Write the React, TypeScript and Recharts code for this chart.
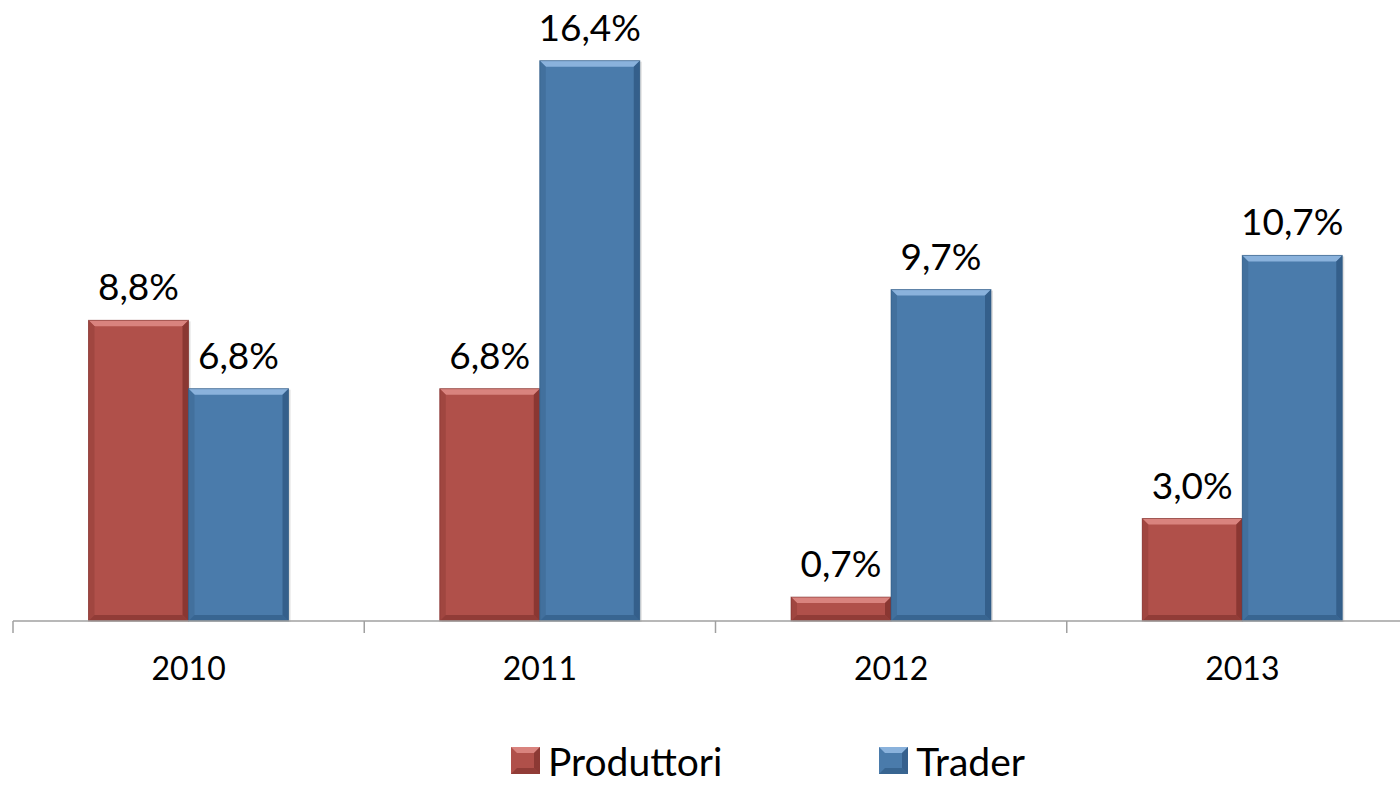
import { BarChart, Bar, XAxis, YAxis, Legend, LabelList } from 'recharts';

const years = ['2010', '2011', '2012', '2013'];
const produttori = [8.8, 6.8, 0.7, 3.0];
const trader = [6.8, 16.4, 9.7, 10.7];

const data = years.map((year, i) => ({ year, produttori: produttori[i], trader: trader[i] }));

const FONT = 'Lato, "Open Sans", sans-serif';

const palette = {
  produttori: { main: '#b0504a', light: '#d9837e', dark: '#7d2f2b', side: '#a04640' },
  trader: { main: '#4a7bab', light: '#8ab2dc', dark: '#2d5680', side: '#42709d' },
};

type Tone = typeof palette.trader;

function bevelShape(tone: Tone) {
  return function BevelBar(props: any) {
    const { x, y, width: w, height: h } = props;
    if (!h || h <= 0) return null;
    const b = Math.min(6, h / 3, w / 3);
    return (
      <g>
        <rect x={x + 2} y={y + 1} width={w} height={h} fill="#000" opacity={0.12} />
        <rect x={x} y={y} width={w} height={h} fill={tone.main} />
        <polygon points={`${x},${y} ${x + w},${y} ${x + w - b},${y + b} ${x + b},${y + b}`} fill={tone.light} />
        <polygon points={`${x},${y} ${x + b},${y + b} ${x + b},${y + h - b} ${x},${y + h}`} fill={tone.side} />
        <polygon points={`${x + w},${y} ${x + w},${y + h} ${x + w - b},${y + h - b} ${x + w - b},${y + b}`} fill={tone.dark} opacity={0.75} />
        <polygon points={`${x},${y + h} ${x + w},${y + h} ${x + w - b},${y + h - b} ${x + b},${y + h - b}`} fill={tone.dark} opacity={0.6} />
        <rect x={x} y={y} width={w} height={h} fill="none" stroke={tone.dark} strokeWidth={1} strokeOpacity={0.6} />
      </g>
    );
  };
}

function formatPct(v: number): string {
  return `${v.toFixed(1).replace('.', ',')}%`;
}

function YearTick(props: any) {
  const { x, y, payload } = props;
  const left = x - (payload.offset ?? 0);
  return (
    <g>
      <line x1={left} y1={y - 8} x2={left} y2={y + 4} stroke="#a0a0a0" strokeWidth={1.5} />
      <text x={x} y={y + 43} textAnchor="middle" dominantBaseline="middle" fontFamily={FONT} fontSize={32} fill="#000">
        {payload.value}
      </text>
    </g>
  );
}

function Swatch({ tone }: { tone: Tone }) {
  return (
    <svg width={30} height={28} style={{ marginRight: 7 }}>
      <rect x={0} y={0} width={29} height={27} fill={tone.main} />
      <polygon points="0,0 29,0 23,6 6,6" fill={tone.light} />
      <polygon points="29,0 29,27 23,21 23,6" fill={tone.dark} opacity={0.7} />
      <polygon points="0,27 29,27 23,21 6,21" fill={tone.dark} opacity={0.6} />
    </svg>
  );
}

function LegendContent() {
  return (
    <div
      style={{
        boxSizing: 'border-box',
        height: 60,
        display: 'flex',
        alignItems: 'center',
        paddingTop: 12,
        paddingLeft: 498,
        fontFamily: FONT,
        fontSize: 39,
        lineHeight: '38px',
        color: '#000',
      }}
    >
      <div style={{ display: 'flex', alignItems: 'center' }}>
        <Swatch tone={palette.produttori} />
        <span>Produttori</span>
      </div>
      <div style={{ display: 'flex', alignItems: 'center', marginLeft: 157 }}>
        <Swatch tone={palette.trader} />
        <span>Trader</span>
      </div>
    </div>
  );
}

export default function App() {
  return (
    <div style={{ position: 'fixed', left: 0, top: 0, width: 1400, height: 785, overflow: 'hidden', background: '#fff' }}>
      <BarChart
        width={1420}
        height={785}
        data={data}
        margin={{ top: 6, right: 2, left: 13, bottom: 0 }}
        barCategoryGap="21.5%"
        barGap={0}
      >
        <XAxis
          dataKey="year"
          height={104}
          tick={<YearTick />}
          tickLine={false}
          axisLine={{ stroke: '#a0a0a0', strokeWidth: 1.5 }}
          interval={0}
        />
        <YAxis hide domain={[0, 18]} />
        <Legend verticalAlign="bottom" content={<LegendContent />} />
        <Bar dataKey="produttori" name="Produttori" shape={bevelShape(palette.produttori)} isAnimationActive={false}>
          <LabelList dataKey="produttori" position="top" offset={20} formatter={(v: any) => formatPct(v)} style={{ fontFamily: FONT, fontSize: 37, fill: '#000' }} />
        </Bar>
        <Bar dataKey="trader" name="Trader" shape={bevelShape(palette.trader)} isAnimationActive={false}>
          <LabelList dataKey="trader" position="top" offset={20} formatter={(v: any) => formatPct(v)} style={{ fontFamily: FONT, fontSize: 37, fill: '#000' }} />
        </Bar>
      </BarChart>
    </div>
  );
}
